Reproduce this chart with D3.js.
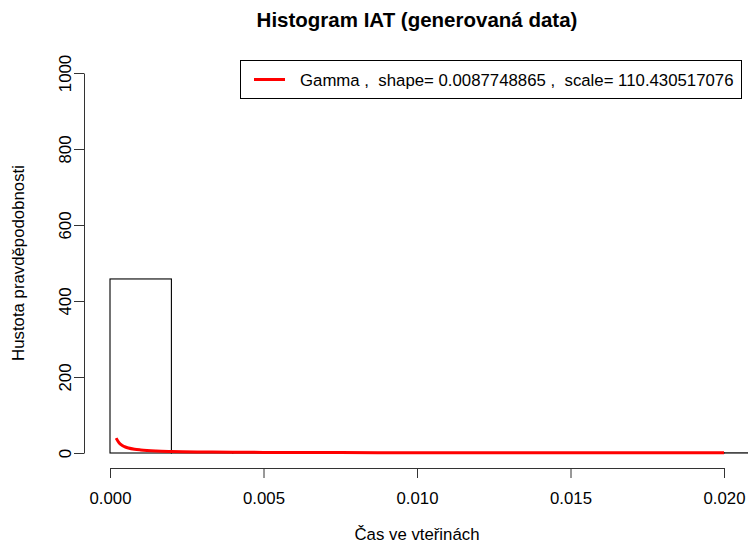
<!DOCTYPE html>
<html><head><meta charset="utf-8">
<script src="https://cdn.jsdelivr.net/npm/d3@7/dist/d3.min.js"></script>
<style>
body{margin:0;background:#fff}
svg{display:block}
text{font-family:"Liberation Sans",Arial,Helvetica,sans-serif;fill:#000}
</style></head>
<body><svg id="chart" width="748" height="548"></svg>
<script>
// ---- data ----
const titleText = "Histogram IAT (generovaná data)";
const xLabel = "Čas ve vteřinách";
const yLabel = "Hustota pravděpodobnosti";
const legendText = "Gamma ,  shape= 0.0087748865 ,  scale= 110.430517076";
const binStarts = [0, 0.002, 0.004, 0.006, 0.008, 0.010, 0.012, 0.014, 0.016, 0.018, 0.020, 0.022, 0.024];
const binDensity = [458, 2.4, 1.5, 1.1, 0.9, 0.8, 0.7, 0.6, 0.5, 0.5, 0.4, 0.4, 0.3];
const binWidth = 0.002;
const curveX = [0.0002, 0.0003, 0.0004, 0.0005, 0.0006, 0.0008, 0.001, 0.0015, 0.002, 0.003, 0.004, 0.005, 0.0075, 0.010, 0.0125, 0.015, 0.0175, 0.020];
const curveY = [39.2, 26.2, 19.7, 15.8, 13.2, 9.9, 8.0, 5.3, 4.0, 2.7, 2.0, 1.6, 1.1, 0.81, 0.65, 0.54, 0.46, 0.41];
const xTicks = [0, 0.005, 0.010, 0.015, 0.020];
const yTicks = [0, 200, 400, 600, 800, 1000];

// ---- layout ----
const svg = d3.select("#chart");
const x = d3.scaleLinear().domain([0, 0.02]).range([110, 724]);
const y = d3.scaleLinear().domain([0, 1000]).range([453, 73]);
const axisY = 468, axisX = 84;
const fs = 16.8;
const ff = '"Liberation Sans",Arial,sans-serif';

// histogram bars
svg.append("g").selectAll("rect").data(binStarts).join("rect")
  .attr("x", (d) => x(d))
  .attr("width", x(binWidth) - x(0))
  .attr("y", (d, i) => y(binDensity[i]))
  .attr("height", (d, i) => y(0) - y(binDensity[i]))
  .attr("fill", "none").attr("stroke", "#000").attr("stroke-width", 1.1);

// gamma curve
const line = d3.line().x((d, i) => x(curveX[i])).y((d) => y(d)).curve(d3.curveMonotoneX);
svg.append("path").datum(curveY).attr("d", line)
  .attr("fill", "none").attr("stroke", "#ff0000").attr("stroke-width", 3)
  .attr("stroke-linejoin", "round");

// x axis
const xAxis = d3.axisBottom(x).tickValues(xTicks).tickFormat(d3.format(".3f"))
  .tickSizeInner(10).tickSizeOuter(0).tickPadding(14);
const gx = svg.append("g").attr("transform", `translate(0,${axisY})`).call(xAxis);
gx.selectAll("text").attr("font-size", fs).style("font-family", ff);
gx.selectAll("line,path").attr("stroke", "#333");

// y axis
const yAxis = d3.axisLeft(y).tickValues(yTicks).tickFormat(d3.format("d"))
  .tickSizeInner(10).tickSizeOuter(0);
const gy = svg.append("g").attr("transform", `translate(${axisX},0)`).call(yAxis);
gy.selectAll("line,path").attr("stroke", "#333");
gy.selectAll("text")
  .attr("font-size", fs).style("font-family", ff)
  .attr("dy", null)
  .attr("text-anchor", "middle")
  .attr("transform", "translate(-13,0) rotate(-90)")
  .attr("x", 0).attr("y", 0);

// title & labels
svg.append("text").attr("x", 417).attr("y", 27).attr("text-anchor", "middle")
  .attr("font-size", 20.5).attr("font-weight", "bold").text(titleText);
svg.append("text").attr("x", 417).attr("y", 540).attr("text-anchor", "middle")
  .attr("font-size", fs).text(xLabel);
svg.append("text").attr("transform", "translate(24,263) rotate(-90)").attr("text-anchor", "middle")
  .attr("font-size", fs).text(yLabel);

// legend
const lg = svg.append("g");
lg.append("rect").attr("x", 240.5).attr("y", 60.5).attr("width", 501).attr("height", 38)
  .attr("fill", "#fff").attr("stroke", "#000");
lg.append("line").attr("x1", 254).attr("x2", 285).attr("y1", 79.5).attr("y2", 79.5)
  .attr("stroke", "#ff0000").attr("stroke-width", 3);
lg.append("text").attr("x", 300).attr("y", 85.5).attr("font-size", fs).attr("xml:space", "preserve")
  .style("white-space", "pre").text(legendText);
</script></body></html>
